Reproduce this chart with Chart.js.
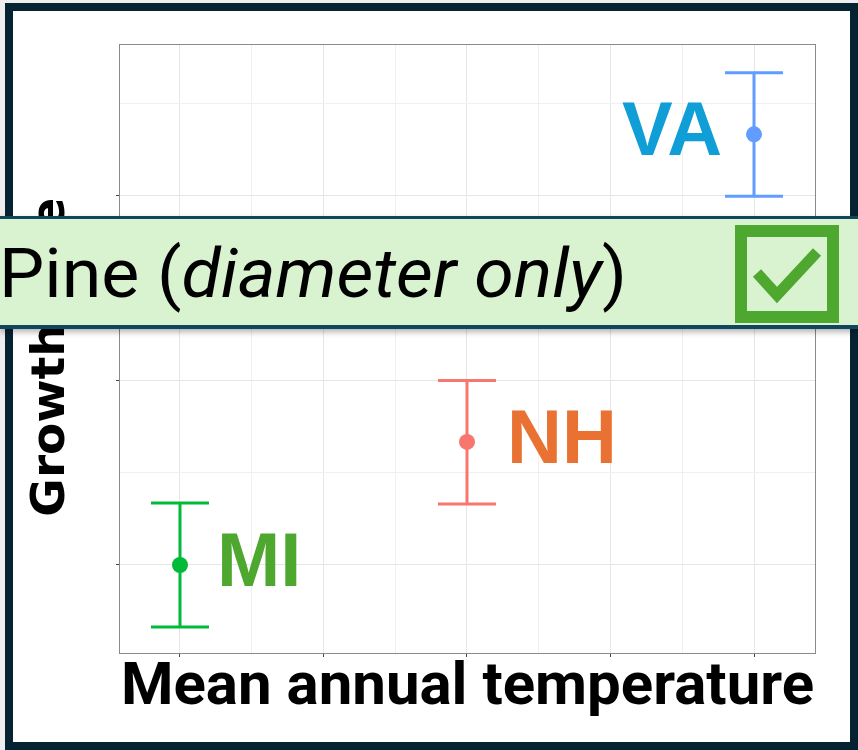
<!DOCTYPE html>
<html>
<head>
<meta charset="utf-8">
<title>Growth rate vs mean annual temperature</title>
<script src="https://cdn.jsdelivr.net/npm/chart.js@4.4.1/dist/chart.umd.min.js"></script>
<style>
  html, body { margin: 0; padding: 0; width: 858px; height: 750px; overflow: hidden; background: #eeeeee; }
  #frame { position: absolute; left: 5px; top: 3px; width: 837px; height: 731px; border: 8px solid #062331; background: #ffffff; }
  #chart { position: absolute; left: 0; top: 0; }
  #banner {
    position: absolute; left: 0; top: 216px; width: 858px; height: 113px; box-sizing: border-box;
    border-top: 3px solid #11475d; border-bottom: 4px solid #11475d; background: #d9f2d0;
    box-shadow: 0 3px 6px rgba(0, 0, 0, 0.3);
  }
  #banner svg { position: absolute; left: 0; top: 0; }
</style>
</head>
<body>
<div id="frame"></div>
<canvas id="chart" width="858" height="750"></canvas>
<div id="banner">
  <svg width="858" height="106" viewBox="0 0 858 106">
    <text x="-1" y="78" font-family="Roboto" font-size="69" fill="#000" textLength="628" lengthAdjust="spacingAndGlyphs">Pine (<tspan font-style="italic">diameter only</tspan>)</text>
    <rect x="741" y="12" width="92" height="86" fill="none" stroke="#4ea72e" stroke-width="12"/>
    <polyline points="757,54 777,76 817,33" fill="none" stroke="#4ea72e" stroke-width="11"/>
  </svg>
</div>

<script>
// 数据
const sites = ['MI', 'NH', 'VA'];
const temperature = [0, 2, 4];
const growth = [0, 0.667, 2.334];
const growthLower = [-0.336, 0.33, 1.998];
const growthUpper = [0.336, 1.0, 2.668];
const xTicks = [0, 0.5, 1, 1.5, 2, 2.5, 3, 3.5, 4];
const yTicks = [0, 0.5, 1, 1.5, 2, 2.5];

// 样式
const pointColors = ['#00ba38', '#f8766d', '#619cff'];
const labelColors = ['#4ea72e', '#e97132', '#0f9ed5'];
const labelOffset = [37, 40, -32];
const labelAlign = ['left', 'left', 'right'];

function gridColor(ctx) {
    return Number.isInteger(ctx.tick.value) ? '#e6e6e6' : '#f0f0f0';
}

function tickColor(ctx) {
    return Number.isInteger(ctx.tick.value) ? '#444444' : 'rgba(0,0,0,0)';
}

// 面板边框
const panelBorder = {
    id: 'panelBorder',
    beforeDatasetsDraw(chart) {
        const { ctx, chartArea: a } = chart;
        ctx.save();
        ctx.strokeStyle = '#8a8a8a';
        ctx.lineWidth = 1;
        ctx.strokeRect(a.left - 0.5, a.top - 0.5, a.right - a.left + 1, a.bottom - a.top + 1);
        ctx.restore();
    }
};

// 误差线
const errorBars = {
    id: 'errorBars',
    beforeDatasetsDraw(chart) {
        const { ctx, scales: { x, y } } = chart;
        const capHalf = 29;
        ctx.save();
        ctx.lineWidth = 3;
        sites.forEach(function(site, i) {
            const px = x.getPixelForValue(temperature[i]);
            const lo = y.getPixelForValue(growthLower[i]);
            const hi = y.getPixelForValue(growthUpper[i]);
            ctx.strokeStyle = pointColors[i];
            ctx.beginPath();
            ctx.moveTo(px, lo);
            ctx.lineTo(px, hi);
            ctx.moveTo(px - capHalf, lo);
            ctx.lineTo(px + capHalf, lo);
            ctx.moveTo(px - capHalf, hi);
            ctx.lineTo(px + capHalf, hi);
            ctx.stroke();
        });
        ctx.restore();
    }
};

// 站点标签
const siteLabels = {
    id: 'siteLabels',
    afterDatasetsDraw(chart) {
        const { ctx, scales: { x, y } } = chart;
        ctx.save();
        ctx.font = 'bold 76px "Liberation Sans", Arial, sans-serif';
        ctx.textBaseline = 'middle';
        sites.forEach(function(site, i) {
            ctx.fillStyle = labelColors[i];
            ctx.textAlign = labelAlign[i];
            ctx.fillText(site, x.getPixelForValue(temperature[i]) + labelOffset[i], y.getPixelForValue(growth[i]));
        });
        ctx.restore();
    }
};

new Chart(document.getElementById('chart'), {
    type: 'scatter',
    data: {
        datasets: [{
            data: temperature.map((t, i) => ({ x: t, y: growth[i] })),
            pointRadius: 8,
            pointHoverRadius: 8,
            pointBackgroundColor: pointColors,
            pointBorderWidth: 0
        }]
    },
    options: {
        responsive: false,
        animation: false,
        events: [],
        layout: { padding: { top: 45, right: 43, left: 0, bottom: 0 } },
        plugins: {
            legend: { display: false },
            tooltip: { enabled: false }
        },
        scales: {
            x: {
                type: 'linear',
                min: -0.418,
                max: 4.425,
                afterBuildTicks: s => { s.ticks = xTicks.map(v => ({ value: v })); },
                afterFit: s => { s.height = 97; },
                ticks: { display: false },
                grid: { color: gridColor, tickColor: tickColor, tickLength: 4, lineWidth: 1 },
                border: { display: false },
                title: {
                    display: true,
                    text: 'Mean annual temperature',
                    color: '#000000',
                    font: { family: 'Roboto', weight: 'bold', size: 60, lineHeight: 1 },
                    padding: { top: 0, bottom: 31 }
                }
            },
            y: {
                min: -0.477,
                max: 2.818,
                afterBuildTicks: s => { s.ticks = yTicks.map(v => ({ value: v })); },
                afterFit: s => { s.width = 120; },
                ticks: { display: false },
                grid: { color: gridColor, tickColor: tickColor, tickLength: 4, lineWidth: 1 },
                border: { display: false },
                title: {
                    display: true,
                    // 末尾空格让文字略微下移
                    text: 'Growth rate ',
                    color: '#000000',
                    font: { family: 'DejaVu Sans', weight: 'bold', size: 47, lineHeight: 1 },
                    padding: { top: 28, bottom: 0 }
                }
            }
        }
    },
    plugins: [panelBorder, errorBars, siteLabels]
});
</script>
</body>
</html>
